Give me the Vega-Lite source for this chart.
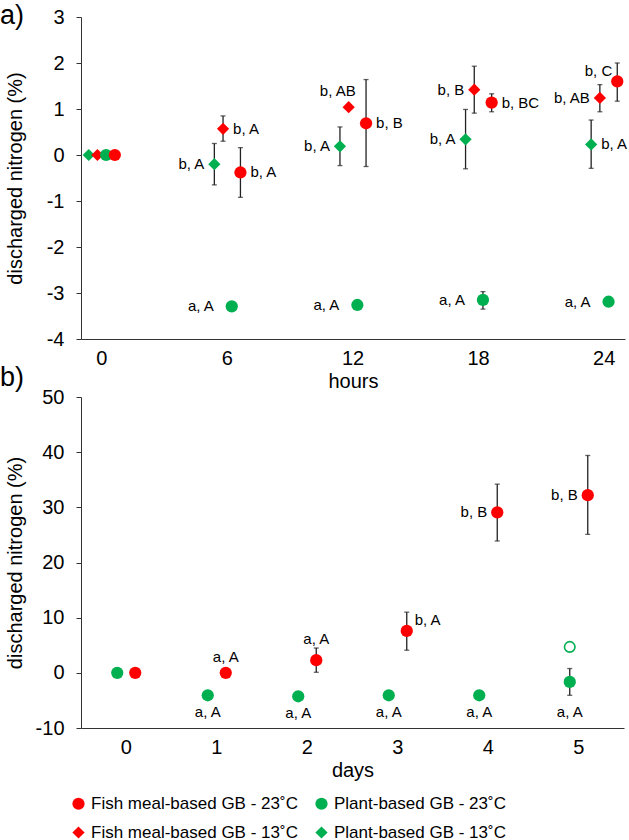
{
  "$schema": "https://vega.github.io/schema/vega-lite/v6.json",
  "padding": {"left": 0, "top": 2, "right": 0, "bottom": 0},
  "config": {
    "font": "Liberation Sans",
    "view": {"stroke": null},
    "axis": {"grid": false, "domainColor": "#333333", "tickColor": "#333333", "labelColor": "#000000", "titleColor": "#000000", "labelFontSize": 20, "titleFontSize": 20, "titleFontWeight": "normal", "labelFont": "Liberation Sans", "titleFont": "Liberation Sans"},
    "title": {"font": "Liberation Sans", "fontWeight": "normal", "fontSize": 27, "color": "#000000"},
    "legend": {"labelFont": "Liberation Sans"}
  },
  "datasets": {
    "a": [
      {"t": "0", "series": "Plant-based GB - 13˚C", "value": 0},
      {"t": "0", "series": "Fish meal-based GB - 13˚C", "value": 0},
      {"t": "0", "series": "Plant-based GB - 23˚C", "value": 0},
      {"t": "0", "series": "Fish meal-based GB - 23˚C", "value": 0},
      {"t": "6", "series": "Fish meal-based GB - 13˚C", "value": 0.57, "lo": 0.30, "hi": 0.85, "label": "b, A", "pos": "R"},
      {"t": "6", "series": "Plant-based GB - 13˚C", "value": -0.20, "lo": -0.65, "hi": 0.25, "label": "b, A", "pos": "L"},
      {"t": "6", "series": "Fish meal-based GB - 23˚C", "value": -0.38, "lo": -0.92, "hi": 0.16, "label": "b, A", "pos": "R"},
      {"t": "6", "series": "Plant-based GB - 23˚C", "value": -3.29, "label": "a, A", "pos": "LL"},
      {"t": "12", "series": "Fish meal-based GB - 13˚C", "value": 1.04, "label": "b, AB", "pos": "AL"},
      {"t": "12", "series": "Fish meal-based GB - 23˚C", "value": 0.69, "lo": -0.25, "hi": 1.64, "label": "b, B", "pos": "R"},
      {"t": "12", "series": "Plant-based GB - 13˚C", "value": 0.19, "lo": -0.23, "hi": 0.61, "label": "b, A", "pos": "L"},
      {"t": "12", "series": "Plant-based GB - 23˚C", "value": -3.26, "label": "a, A", "pos": "LL"},
      {"t": "18", "series": "Fish meal-based GB - 13˚C", "value": 1.42, "lo": 0.91, "hi": 1.93, "label": "b, B", "pos": "L"},
      {"t": "18", "series": "Fish meal-based GB - 23˚C", "value": 1.14, "lo": 0.94, "hi": 1.33, "label": "b, BC", "pos": "R"},
      {"t": "18", "series": "Plant-based GB - 13˚C", "value": 0.34, "lo": -0.30, "hi": 0.99, "label": "b, A", "pos": "L"},
      {"t": "18", "series": "Plant-based GB - 23˚C", "value": -3.15, "lo": -3.35, "hi": -2.97, "label": "a, A", "pos": "LL"},
      {"t": "24", "series": "Fish meal-based GB - 23˚C", "value": 1.60, "lo": 1.17, "hi": 2.00, "label": "b, C", "pos": "LU"},
      {"t": "24", "series": "Fish meal-based GB - 13˚C", "value": 1.24, "lo": 0.94, "hi": 1.53, "label": "b, AB", "pos": "L"},
      {"t": "24", "series": "Plant-based GB - 13˚C", "value": 0.23, "lo": -0.29, "hi": 0.76, "label": "b, A", "pos": "R"},
      {"t": "24", "series": "Plant-based GB - 23˚C", "value": -3.19, "label": "a, A", "pos": "LL"}
    ],
    "b": [
      {"t": "0", "series": "Plant-based GB - 23˚C", "value": 0},
      {"t": "0", "series": "Fish meal-based GB - 23˚C", "value": 0},
      {"t": "1", "series": "Fish meal-based GB - 23˚C", "value": 0.0, "label": "a, A", "pos": "A"},
      {"t": "1", "series": "Plant-based GB - 23˚C", "value": -4.07, "label": "a, A", "pos": "B"},
      {"t": "2", "series": "Fish meal-based GB - 23˚C", "value": 2.3, "lo": 0.1, "hi": 4.5, "label": "a, A", "pos": "AA"},
      {"t": "2", "series": "Plant-based GB - 23˚C", "value": -4.25, "label": "a, A", "pos": "B"},
      {"t": "3", "series": "Fish meal-based GB - 23˚C", "value": 7.6, "lo": 4.1, "hi": 11.0, "label": "b, A", "pos": "RU"},
      {"t": "3", "series": "Plant-based GB - 23˚C", "value": -4.07, "label": "a, A", "pos": "B"},
      {"t": "4", "series": "Fish meal-based GB - 23˚C", "value": 29.1, "lo": 23.9, "hi": 34.2, "label": "b, B", "pos": "L"},
      {"t": "4", "series": "Plant-based GB - 23˚C", "value": -4.07, "label": "a, A", "pos": "B"},
      {"t": "5", "series": "Fish meal-based GB - 23˚C", "value": 32.2, "lo": 25.1, "hi": 39.4, "label": "b, B", "pos": "L"},
      {"t": "5", "series": "Plant-based GB - 23˚C", "value": -1.64, "lo": -4.07, "hi": 0.78, "label": "a, A", "pos": "BB"},
      {"t": "5", "series": "Plant-based GB - 23˚C", "value": 4.7, "hollow": true}
    ]
  },
  "resolve": {"scale": {"x": "independent", "y": "independent", "xOffset": "independent"}},
  "spacing": -27,
  "vconcat": [
    {
      "data": {"name": "a"},
      "width": 544,
      "height": 322,
      "title": {"text": "a)", "anchor": "start", "frame": "bounds", "offset": -23, "dx": -5},
      "encoding": {
        "x": {"field": "t", "type": "ordinal", "sort": ["0", "6", "12", "18", "24"],
          "scale": {"paddingInner": 0.723, "paddingOuter": 0.027},
          "axis": {"title": "hours", "labelAngle": 0, "ticks": false, "labelPadding": 9, "titlePadding": 3}},
        "xOffset": {"field": "series", "type": "nominal",
          "scale": {"domain": ["Plant-based GB - 13˚C", "Fish meal-based GB - 13˚C", "Plant-based GB - 23˚C", "Fish meal-based GB - 23˚C"]}}
      },
      "layer": [
        {
          "transform": [{"filter": "isValid(datum.lo)"}],
          "mark": {"type": "rule", "color": "#222222", "strokeWidth": 1.3},
          "encoding": {
            "y": {"field": "lo", "type": "quantitative", "scale": {"domain": [-4, 3], "nice": false},
              "axis": {"title": "discharged nitrogen (%)", "values": [-4, -3, -2, -1, 0, 1, 2, 3], "labelExpr": "datum.value < 0 ? '-' + abs(datum.value) : '' + datum.value", "tickSize": 5, "labelPadding": 12, "titleX": -56}},
            "y2": {"field": "hi"}
          }
        },
        {
          "transform": [{"filter": "isValid(datum.lo)"}],
          "mark": {"type": "tick", "orient": "horizontal", "color": "#222222", "size": 5, "thickness": 1.3},
          "encoding": {"y": {"field": "lo", "type": "quantitative"}}
        },
        {
          "transform": [{"filter": "isValid(datum.hi)"}],
          "mark": {"type": "tick", "orient": "horizontal", "color": "#222222", "size": 5, "thickness": 1.3},
          "encoding": {"y": {"field": "hi", "type": "quantitative"}}
        },
        {
          "mark": {"type": "point", "filled": true, "opacity": 1},
          "encoding": {
            "y": {"field": "value", "type": "quantitative"},
            "color": {"field": "series", "type": "nominal",
              "scale": {"domain": ["Fish meal-based GB - 23˚C", "Plant-based GB - 23˚C", "Fish meal-based GB - 13˚C", "Plant-based GB - 13˚C"], "range": ["#FF0000", "#00B050", "#FF0000", "#00B050"]},
              "legend": {"orient": "none", "direction": "horizontal", "legendX": -11, "legendY": 778, "columns": 2, "title": null, "labelFontSize": 17, "symbolSize": 150, "columnPadding": 15, "rowPadding": 11, "labelLimit": 400}},
            "shape": {"field": "series", "type": "nominal",
              "scale": {"domain": ["Fish meal-based GB - 23˚C", "Plant-based GB - 23˚C", "Fish meal-based GB - 13˚C", "Plant-based GB - 13˚C"], "range": ["circle", "circle", "diamond", "diamond"]},
              "legend": {"orient": "none", "direction": "horizontal", "legendX": -11, "legendY": 778, "columns": 2, "title": null, "labelFontSize": 17, "symbolSize": 150, "columnPadding": 15, "rowPadding": 11, "labelLimit": 400}},
            "size": {"field": "series", "type": "nominal",
              "scale": {"domain": ["Fish meal-based GB - 23˚C", "Plant-based GB - 23˚C", "Fish meal-based GB - 13˚C", "Plant-based GB - 13˚C"], "range": [150, 150, 120, 120]},
              "legend": null}
          }
        },
        {"transform": [{"filter": "datum.pos === 'R'"}], "mark": {"type": "text", "fontSize": 15, "align": "left", "baseline": "middle", "dx": 10},
          "encoding": {"y": {"field": "value", "type": "quantitative"}, "text": {"field": "label"}}},
        {"transform": [{"filter": "datum.pos === 'L'"}], "mark": {"type": "text", "fontSize": 15, "align": "right", "baseline": "middle", "dx": -10},
          "encoding": {"y": {"field": "value", "type": "quantitative"}, "text": {"field": "label"}}},
        {"transform": [{"filter": "datum.pos === 'LL'"}], "mark": {"type": "text", "fontSize": 15, "align": "right", "baseline": "middle", "dx": -18},
          "encoding": {"y": {"field": "value", "type": "quantitative"}, "text": {"field": "label"}}},
        {"transform": [{"filter": "datum.pos === 'LU'"}], "mark": {"type": "text", "fontSize": 15, "align": "right", "baseline": "middle", "dx": -5, "dy": -10},
          "encoding": {"y": {"field": "value", "type": "quantitative"}, "text": {"field": "label"}}},
        {"transform": [{"filter": "datum.pos === 'AL'"}], "mark": {"type": "text", "fontSize": 15, "align": "right", "baseline": "middle", "dx": 7, "dy": -16},
          "encoding": {"y": {"field": "value", "type": "quantitative"}, "text": {"field": "label"}}}
      ]
    },
    {
      "data": {"name": "b"},
      "width": 543,
      "height": 331,
      "title": {"text": "b)", "anchor": "start", "frame": "bounds", "offset": -5, "dx": -5},
      "encoding": {
        "x": {"field": "t", "type": "ordinal", "sort": ["0", "1", "2", "3", "4", "5"],
          "scale": {"paddingInner": 0.602, "paddingOuter": 0.301},
          "axis": {"title": "days", "labelAngle": 0, "ticks": false, "labelPadding": 9, "titlePadding": 3}},
        "xOffset": {"field": "series", "type": "nominal",
          "scale": {"domain": ["Plant-based GB - 23˚C", "Fish meal-based GB - 23˚C"]}}
      },
      "layer": [
        {
          "transform": [{"filter": "isValid(datum.lo)"}],
          "mark": {"type": "rule", "color": "#222222", "strokeWidth": 1.3},
          "encoding": {
            "y": {"field": "lo", "type": "quantitative", "scale": {"domain": [-10, 50], "nice": false},
              "axis": {"title": "discharged nitrogen (%)", "values": [-10, 0, 10, 20, 30, 40, 50], "labelExpr": "datum.value < 0 ? '-' + abs(datum.value) : '' + datum.value", "tickSize": 5, "labelPadding": 12, "titleX": -56}},
            "y2": {"field": "hi"}
          }
        },
        {
          "transform": [{"filter": "isValid(datum.lo)"}],
          "mark": {"type": "tick", "orient": "horizontal", "color": "#222222", "size": 5, "thickness": 1.3},
          "encoding": {"y": {"field": "lo", "type": "quantitative"}}
        },
        {
          "transform": [{"filter": "isValid(datum.hi)"}],
          "mark": {"type": "tick", "orient": "horizontal", "color": "#222222", "size": 5, "thickness": 1.3},
          "encoding": {"y": {"field": "hi", "type": "quantitative"}}
        },
        {
          "transform": [{"filter": "!datum.hollow"}],
          "mark": {"type": "point", "filled": true, "opacity": 1},
          "encoding": {
            "y": {"field": "value", "type": "quantitative"},
            "color": {"field": "series", "type": "nominal",
              "scale": {"domain": ["Fish meal-based GB - 23˚C", "Plant-based GB - 23˚C", "Fish meal-based GB - 13˚C", "Plant-based GB - 13˚C"], "range": ["#FF0000", "#00B050", "#FF0000", "#00B050"]},
              "legend": {"orient": "none", "direction": "horizontal", "legendX": -11, "legendY": 778, "columns": 2, "title": null, "labelFontSize": 17, "symbolSize": 150, "columnPadding": 15, "rowPadding": 11, "labelLimit": 400}},
            "shape": {"field": "series", "type": "nominal",
              "scale": {"domain": ["Fish meal-based GB - 23˚C", "Plant-based GB - 23˚C", "Fish meal-based GB - 13˚C", "Plant-based GB - 13˚C"], "range": ["circle", "circle", "diamond", "diamond"]},
              "legend": {"orient": "none", "direction": "horizontal", "legendX": -11, "legendY": 778, "columns": 2, "title": null, "labelFontSize": 17, "symbolSize": 150, "columnPadding": 15, "rowPadding": 11, "labelLimit": 400}},
            "size": {"field": "series", "type": "nominal",
              "scale": {"domain": ["Fish meal-based GB - 23˚C", "Plant-based GB - 23˚C", "Fish meal-based GB - 13˚C", "Plant-based GB - 13˚C"], "range": [150, 150, 120, 120]},
              "legend": null}
          }
        },
        {
          "transform": [{"filter": "datum.hollow === true"}],
          "mark": {"type": "point", "filled": false, "shape": "circle", "color": "#00B050", "strokeWidth": 1.6, "size": 110, "opacity": 1},
          "encoding": {"y": {"field": "value", "type": "quantitative"}}
        },
        {"transform": [{"filter": "datum.pos === 'L'"}], "mark": {"type": "text", "fontSize": 15, "align": "right", "baseline": "middle", "dx": -10},
          "encoding": {"y": {"field": "value", "type": "quantitative"}, "text": {"field": "label"}}},
        {"transform": [{"filter": "datum.pos === 'A'"}], "mark": {"type": "text", "fontSize": 15, "align": "center", "baseline": "middle", "dy": -16},
          "encoding": {"y": {"field": "value", "type": "quantitative"}, "text": {"field": "label"}}},
        {"transform": [{"filter": "datum.pos === 'AA'"}], "mark": {"type": "text", "fontSize": 15, "align": "center", "baseline": "middle", "dy": -21},
          "encoding": {"y": {"field": "value", "type": "quantitative"}, "text": {"field": "label"}}},
        {"transform": [{"filter": "datum.pos === 'RU'"}], "mark": {"type": "text", "fontSize": 15, "align": "left", "baseline": "middle", "dx": 8, "dy": -11},
          "encoding": {"y": {"field": "value", "type": "quantitative"}, "text": {"field": "label"}}},
        {"transform": [{"filter": "datum.pos === 'B'"}], "mark": {"type": "text", "fontSize": 15, "align": "center", "baseline": "middle", "dy": 17},
          "encoding": {"y": {"field": "value", "type": "quantitative"}, "text": {"field": "label"}}},
        {"transform": [{"filter": "datum.pos === 'BB'"}], "mark": {"type": "text", "fontSize": 15, "align": "center", "baseline": "middle", "dy": 30},
          "encoding": {"y": {"field": "value", "type": "quantitative"}, "text": {"field": "label"}}}
      ]
    }
  ]
}
